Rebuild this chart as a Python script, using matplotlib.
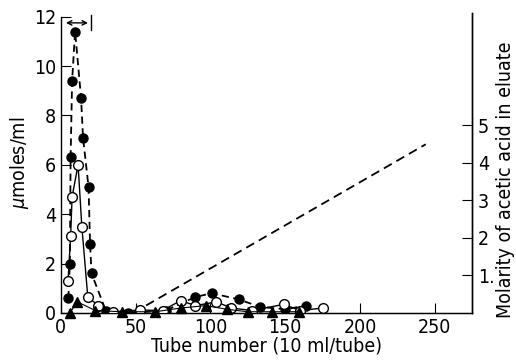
import matplotlib
matplotlib.use("Agg")
import matplotlib.pyplot as plt

plt.rcParams['font.family'] = ['DejaVu Sans']
plt.rcParams['font.stretch'] = 'condensed'

# filled circles (dashed line)
filled_x = [5, 6, 6.5, 7.5, 9.5, 13.5, 14.8, 18.5, 19.5, 20.5, 30, 45, 70, 90, 101, 119, 133, 150, 164]
filled_y = [0.6, 2.0, 6.3, 9.4, 11.4, 8.7, 7.1, 5.1, 2.8, 1.6, 0.1, 0.0, 0.1, 0.65, 0.8, 0.55, 0.25, 0.15, 0.3]

# open circles (solid line)
open_x = [4.8, 6.5, 7.5, 11.5, 14, 18, 25, 35, 53, 68, 80, 90, 104, 114, 128, 149, 160, 175]
open_y = [1.3, 3.1, 4.7, 6.0, 3.5, 0.65, 0.3, 0.05, 0.12, 0.1, 0.5, 0.3, 0.45, 0.2, 0.1, 0.35, 0.1, 0.2]

# filled triangles
tri_x = [6, 11, 23, 41, 63, 80, 97, 111, 125, 141, 159]
tri_y = [0.0, 0.45, 0.1, 0.05, 0.05, 0.2, 0.3, 0.15, 0.05, 0.05, 0.05]

# acetic acid gradient (M)
grad_x = [57, 244]
grad_y = [0.2, 4.5]

fig = plt.figure(figsize=(5.16, 3.61), dpi=100)
ax = fig.add_axes([0.118, 0.133, 0.797, 0.831])

ax.plot(filled_x, filled_y, linestyle=(0, (4, 2.5)), color='black', lw=1.3,
        marker='o', markersize=6.5, markerfacecolor='black', markeredgecolor='black', zorder=3)
ax.plot(open_x, open_y, linestyle='-', color='black', lw=1.0,
        marker='o', markersize=7, markerfacecolor='white', markeredgecolor='black', zorder=4)
ax.plot(tri_x, tri_y, linestyle='-', color='black', lw=0.8,
        marker='^', markersize=7, markerfacecolor='black', markeredgecolor='black', zorder=5,
        clip_on=False)

ax.set_xlim(0, 275)
ax.set_ylim(0, 12.15)
ax.set_xticks([0, 50, 100, 150, 200, 250])
ax.set_yticks([0, 2, 4, 6, 8, 10, 12])
ax.tick_params(direction='in', length=7, labelsize=14, width=0.8)
ax.spines['top'].set_visible(False)
ax.spines['left'].set_bounds(0, 12)
for s in ax.spines.values():
    s.set_linewidth(1.0)
ax.set_xlabel('Tube number (10 ml/tube)', fontsize=14, labelpad=0)
ax.set_ylabel(r'$\mu$moles/ml', fontsize=14, labelpad=2)

# bracket at top
ax.annotate('', xy=(1.5, 11.75), xytext=(20, 11.75),
            arrowprops=dict(arrowstyle='<->', lw=1.0, color='black', mutation_scale=8))
ax.plot([20, 20], [11.45, 12.05], color='black', lw=1.0)

ax2 = ax.twinx()
ax2.set_ylim(0, 8)
ax2.plot(grad_x, grad_y, linestyle=(0, (5, 3)), color='black', lw=1.3)
ax2.set_yticks([1, 2, 3, 4, 5])
ax2.set_yticklabels(['1.', '2', '3', '4', '5'])
ax2.tick_params(direction='in', length=7, labelsize=14, width=0.8, pad=4)
ax2.spines['top'].set_visible(False)
ax2.spines['left'].set_visible(False)
ax2.spines['right'].set_linewidth(1.0)
ax2.set_ylabel('Molarity of acetic acid in eluate', fontsize=14)
ax2.yaxis.set_label_coords(1.058, 0.443)

fig.savefig('out.png', dpi=100)
